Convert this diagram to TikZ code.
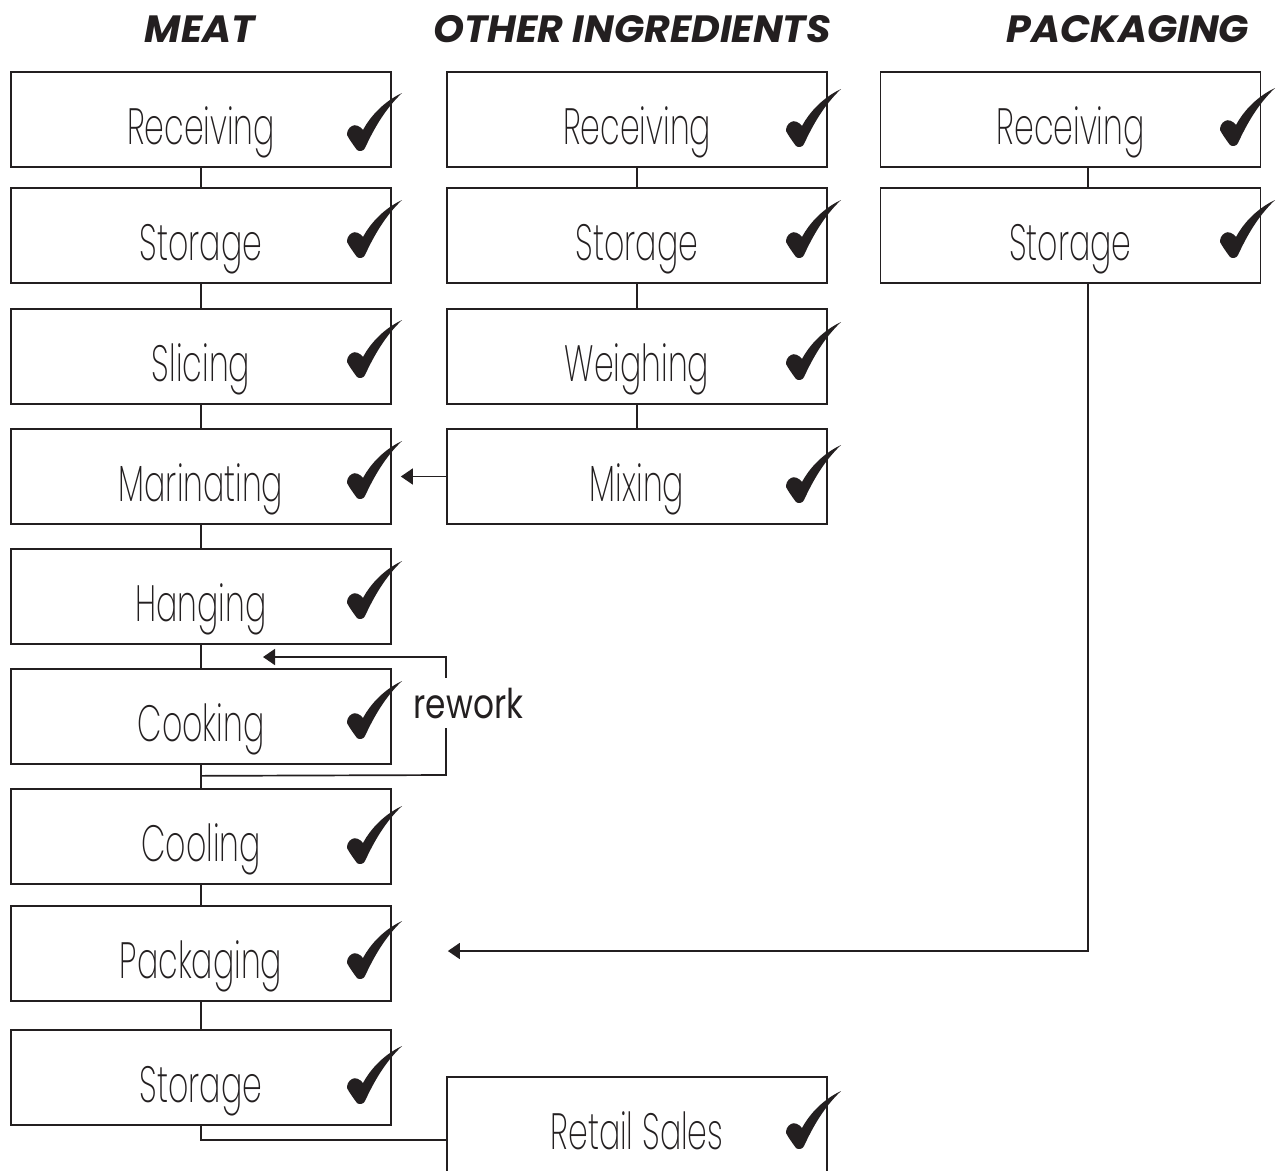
\documentclass[tikz,border=0pt]{standalone}
\usepackage{fontspec}
\setmainfont{Poppins}
\newfontfamily\headfont{Poppins}[FakeStretch=1.04]
\newfontfamily\boxfont{Poppins ExtraLight}[FakeStretch=0.62]
\newfontfamily\reworkfont{Poppins}[FakeStretch=0.8]
\usetikzlibrary{arrows.meta}
\definecolor{ink}{HTML}{231F20}
\tikzset{
  stepbox/.style={draw=ink, line width=1.7pt, minimum width=380pt, minimum height=95pt,
    inner sep=0pt, text height=50pt, text depth=0pt, text=ink,
    font=\boxfont\fontsize{51}{51}\selectfont},
  head/.style={anchor=base, text=ink, font=\headfont\bfseries\itshape\fontsize{38}{38}\selectfont},
  link/.style={draw=ink, line width=1.7pt},
  arr/.style={link, -{Triangle[length=12pt,width=16pt]}}
}
% check mark, top left corner at #1
\newcommand\chk[1]{\fill[ink,shift={#1}] (55,0) .. controls (38,8) and (24,22) .. (16,37)
  .. controls (13,33) and (8,31) .. (5,33) .. controls (1,35) and (0,39) .. (0,42)
  .. controls (2,46) and (7,53) .. (10,57) .. controls (12,59) and (17,58) .. (18,55)
  .. controls (25,40) and (36,18) .. (55,0) -- cycle;}
\begin{document}
\begin{tikzpicture}[x=1pt,y=-1pt]
\useasboundingbox (0,0) rectangle (1281,1170);

% to write column titles
\node [head] (hmeat) at (200,42) {MEAT};
\node [head] (hother) at (632,42) {OTHER INGREDIENTS};
\node [head] (hpack) at (1128,42) {PACKAGING};

%Meat side:
\node [stepbox] (m1) at (201,119.5) {Receiving};
\node [stepbox] (m2) at (201,235.5) {Storage};
\node [stepbox] (m3) at (201,356.5) {Slicing};
\node [stepbox] (m4) at (201,476.5) {Marinating};
\node [stepbox] (m5) at (201,596.5) {Hanging};
\node [stepbox] (m6) at (201,716.5) {Cooking};
\node [stepbox] (m7) at (201,836.5) {Cooling};
\node [stepbox] (m8) at (201,953.5) {Packaging};
\node [stepbox] (m9) at (201,1077.5) {Storage};

%Other ingredients side:
\node [stepbox] (o1) at (637,119.5) {Receiving};
\node [stepbox] (o2) at (637,235.5) {Storage};
\node [stepbox] (o3) at (637,356.5) {Weighing};
\node [stepbox] (o4) at (637,476.5) {Mixing};
\node [stepbox] (rs) at (637,1124.5) {Retail Sales};

%Packaging side:
\node [stepbox] (p1) at (1070.5,119.5) {Receiving};
\node [stepbox] (p2) at (1070.5,235.5) {Storage};

% to draw check marks
\chk{(347,93)} \chk{(347,200)} \chk{(347,320)} \chk{(347,441)} \chk{(347,561)}
\chk{(347,681)} \chk{(347,806)} \chk{(347,921)} \chk{(347,1046)}
\chk{(786,89)} \chk{(786,200)} \chk{(786,322)} \chk{(786,445)} \chk{(786,1091)}
\chk{(1220,88)} \chk{(1220,200)}

% to draw vertical links
\draw [link] (m1.south) -- (m2.north);
\draw [link] (m2.south) -- (m3.north);
\draw [link] (m3.south) -- (m4.north);
\draw [link] (m4.south) -- (m5.north);
\draw [link] (m5.south) -- (m6.north);
\draw [link] (m6.south) -- (m7.north);
\draw [link] (m7.south) -- (m8.north);
\draw [link] (m8.south) -- (m9.north);
\draw [link] (o1.south) -- (o2.north);
\draw [link] (o2.south) -- (o3.north);
\draw [link] (o3.south) -- (o4.north);
\draw [link] ([xshift=17.5pt]p1.south) -- ([xshift=17.5pt]p2.north);

% to draw arrows between columns
\draw [arr] (o4.west) -- ([xshift=9pt]m4.east);
\draw [arr] ([xshift=17.5pt]p2.south) |- ([xshift=56pt,yshift=2.5pt]m8.east);
\draw [link] (m9.south) |- ([yshift=-15.5pt]rs.west);

% rework loop
\coordinate (rwa) at (446,775);
\coordinate (rwb) at (446,657);
\coordinate (rwend) at (263,657);
\draw [arr] ([yshift=-11pt]m6.south) -- (rwa) -- (rwb) -- (rwend);
\node [anchor=base, fill=white, inner xsep=2pt, inner ysep=10pt, text=ink,
  font=\reworkfont\fontsize{41}{41}\selectfont] (rw) at (468.5,718) {rework};
\end{tikzpicture}
\end{document}
